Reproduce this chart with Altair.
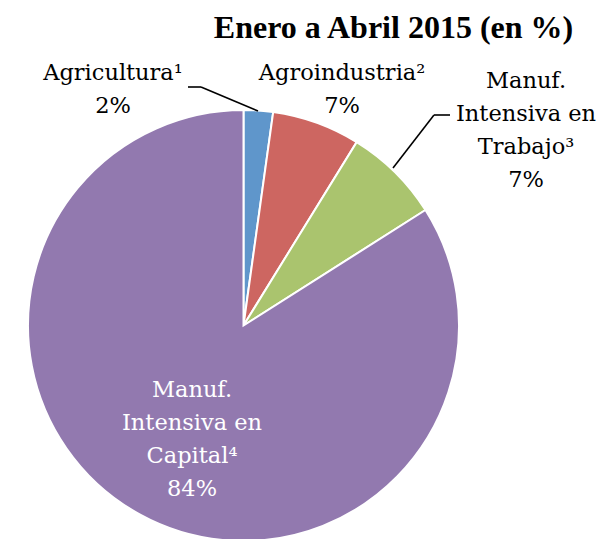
import altair as alt
import pandas as pd

# ---- data ----
categories = ["Agricultura", "Agroindustria", "Manuf. Intensiva en Trabajo", "Manuf. Intensiva en Capital"]
shares = [2.2, 6.6, 7.2, 84.0]
label_lines = [
    ["Agricultura¹", "2%"],
    ["Agroindustria²", "7%"],
    ["Manuf.", "Intensiva en", "Trabajo³", "7%"],
    ["Manuf.", "Intensiva en", "Capital⁴", "84%"],
]
title_text = "Enero a Abril 2015 (en %)"

# ---- layout / style (chart pixel coords) ----
colors = ["#5F96CB", "#CD6661", "#AAC46E", "#9279AF"]
label_colors = ["black", "black", "black", "white"]
OFF = 8
cx, cy, R = 243.5 - OFF, 325.5 - OFF, 215.5
label_anchor = [(113, 80), (342, 80), (526, 88), (192, 397)]  # page coords: center x, first baseline
line_h = 33
LABEL_FONT = "DejaVu Serif"
TITLE_FONT = "Liberation Serif"
FS = 22.5

pie_df = pd.DataFrame({"cat": categories, "share": shares, "idx": list(range(len(categories)))})

pie = alt.Chart(pie_df).mark_arc(radius=R, stroke="white", strokeWidth=2).encode(
    theta=alt.Theta("share:Q", stack=True),
    color=alt.Color("cat:N", scale=alt.Scale(domain=categories, range=colors), legend=None),
    order=alt.Order("idx:Q"),
    x=alt.value(cx),
    y=alt.value(cy),
)

label_layers = []
for i, lines in enumerate(label_lines):
    ax, ay = label_anchor[i]
    for j, t in enumerate(lines):
        label_layers.append(
            alt.Chart(pd.DataFrame({"t": [t]})).mark_text(
                font=LABEL_FONT, fontSize=FS, align="center", baseline="alphabetic", color=label_colors[i]
            ).encode(x=alt.value(ax - OFF), y=alt.value(ay - OFF + j * line_h), text="t:N")
        )

title = alt.Chart(pd.DataFrame({"t": [title_text]})).mark_text(
    font=TITLE_FONT, fontSize=32, fontWeight="bold", align="center", baseline="alphabetic"
).encode(x=alt.value(393.5 - OFF), y=alt.value(38 - OFF), text="t:N")

# leader lines
leader_segs = [
    ((188, 87), (201, 87)),
    ((201, 87), (258, 111)),
    ((450, 115), (434, 115)),
    ((434, 115), (393, 168)),
]
seg_df = pd.DataFrame([
    {"x": a[0] - OFF, "y": a[1] - OFF, "x2": b[0] - OFF, "y2": b[1] - OFF} for a, b in leader_segs
])
leaders = alt.Chart(seg_df).mark_rule(color="black", strokeWidth=1.6).encode(
    x=alt.X("x:Q", scale=None), y=alt.Y("y:Q", scale=None),
    x2="x2:Q", y2="y2:Q",
)

chart = alt.layer(pie, leaders, *label_layers, title).properties(
    width=590, height=531,
    autosize=alt.AutoSizeParams(type="none"),
    padding=0,
).configure_view(stroke=None)

chart.save("out.html", embed_options={"renderer": "svg", "actions": False})
